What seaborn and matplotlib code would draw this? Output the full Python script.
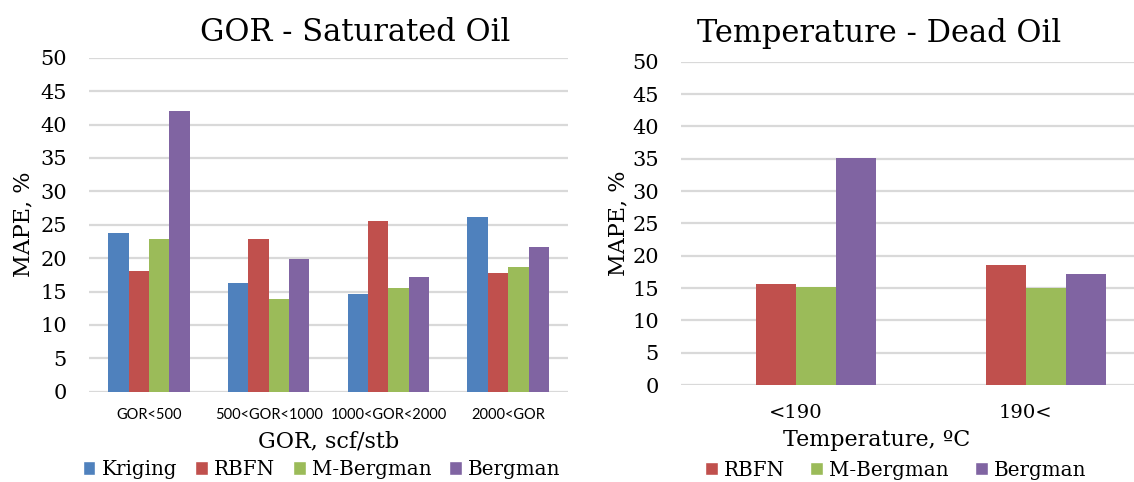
import numpy as np
import pandas as pd
import matplotlib
matplotlib.use("Agg")
import matplotlib.pyplot as plt
import seaborn as sns
from matplotlib.patches import Patch

# ---- data ----
gor_categories = ["GOR<500", "500<GOR<1000", "1000<GOR<2000", "2000<GOR"]
gor_kriging = [23.8, 16.2, 14.6, 26.1]
gor_rbfn = [18.0, 22.9, 25.6, 17.8]
gor_mbergman = [22.8, 13.9, 15.5, 18.6]
gor_bergman = [42.0, 19.9, 17.1, 21.7]

temp_categories = ["<190", "190<"]
temp_kriging = [np.nan, np.nan]
temp_rbfn = [15.7, 18.5]
temp_mbergman = [15.2, 15.0]
temp_bergman = [35.1, 17.1]

methods = ["Kriging", "RBFN", "M-Bergman", "Bergman"]
colors = ["#4F81BD", "#C0504D", "#9BBB59", "#8064A2"]
palette = dict(zip(methods, colors))


def long_df(cats, series):
    rows = []
    for m, vals in zip(methods, series):
        for c, v in zip(cats, vals):
            rows.append({"cat": c, "method": m, "value": v})
    return pd.DataFrame(rows)


df_gor = long_df(gor_categories, [gor_kriging, gor_rbfn, gor_mbergman, gor_bergman])
df_temp = long_df(temp_categories, [temp_kriging, temp_rbfn, temp_mbergman, temp_bergman])

sns.set_style("white")
plt.rcParams["font.family"] = ["DejaVu Serif"]
plt.rcParams["text.color"] = "black"
plt.rcParams["axes.labelcolor"] = "black"
plt.rcParams["xtick.color"] = "black"
plt.rcParams["ytick.color"] = "black"

fig = plt.figure(figsize=(11.34, 4.82), dpi=100)
ax1 = fig.add_axes([0.0785, 0.1873, 0.4224, 0.6930])
ax2 = fig.add_axes([0.6005, 0.2012, 0.4056, 0.6707])

grid_color = "#D9D9D9"

for ax, df, cats, w in [(ax1, df_gor, gor_categories, 0.68), (ax2, df_temp, temp_categories, 0.696)]:
    sns.barplot(data=df, x="cat", y="value", hue="method", hue_order=methods,
                order=cats, palette=palette, width=w, gap=0, linewidth=0,
                saturation=1, errorbar=None, legend=False, ax=ax)
    ax.set_ylim(0, 50)
    ax.set_yticks(np.arange(0, 51, 5))
    ax.set_xlim(-0.5, len(cats) - 0.5)
    ax.yaxis.grid(True, color=grid_color, linewidth=1.6)
    ax.set_axisbelow(True)
    for s in ax.spines.values():
        s.set_visible(False)
    ax.tick_params(axis="both", length=0)
    ax.tick_params(axis="y", pad=16)
    for lab in ax.get_yticklabels():
        lab.set_fontsize(15)

# left panel text
ax1.set_title("GOR - Saturated Oil", fontsize=22, pad=12, x=0.555)
ax1.set_ylabel("MAPE, %", fontsize=16)
ax1.yaxis.set_label_coords(-0.113, 0.5)
ax1.set_xlabel("GOR, scf/stb", fontsize=16, labelpad=6)
ax1.set_xticks(range(len(gor_categories)))
ax1.set_xticklabels(gor_categories, fontsize=10.5, family=["Lato", "DejaVu Sans"])
ax1.tick_params(axis="x", pad=12)
h1 = [Patch(facecolor=palette[m]) for m in methods]
ax1.legend(h1, methods, loc="center", bbox_to_anchor=(0.485, -0.233), ncol=4,
           frameon=False, fontsize=14.3, handlelength=0.65, handleheight=0.65,
           handletextpad=0.3, columnspacing=0.9, borderaxespad=0, borderpad=0)

# right panel text
ax2.set_title("Temperature - Dead Oil", fontsize=22, pad=14, x=0.43)
ax2.set_ylabel("MAPE, %", fontsize=16)
ax2.yaxis.set_label_coords(-0.113, 0.5)
ax2.set_xlabel("Temperature, ºC", fontsize=16, labelpad=0)
ax2.xaxis.set_label_coords(0.426, -0.135)
ax2.set_xticks(range(len(temp_categories)))
ax2.set_xticklabels(temp_categories, fontsize=14)
ax2.tick_params(axis="x", pad=14)
h2 = [Patch(facecolor=palette[m]) for m in methods[1:]]
ax2.legend(h2, methods[1:], loc="center", bbox_to_anchor=(0.466, -0.263), ncol=3,
           frameon=False, fontsize=14.3, handlelength=0.65, handleheight=0.65,
           handletextpad=0.3, columnspacing=1.3, borderaxespad=0, borderpad=0)

fig.savefig("out.png", dpi=100)
